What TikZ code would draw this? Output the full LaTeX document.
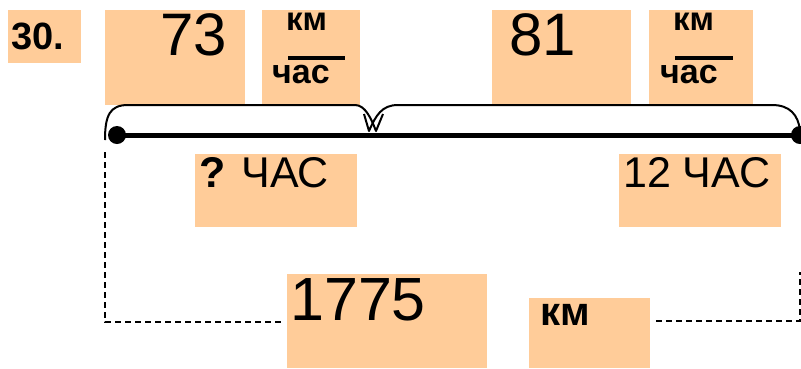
\documentclass[tikz,border=0pt]{standalone}
\usepackage{fontspec}
\setmainfont{Liberation Sans}
\usepackage{tikz}
\usetikzlibrary{positioning, calc}
\definecolor{mPeach}{HTML}{FFCC99}

\begin{document}
\begin{tikzpicture}[x=1pt, y=-1pt,
  box/.style={fill=mPeach, anchor=north west, inner sep=0, draw=none},
  txt/.style={anchor=base west, inner sep=0},
  dot/.style={circle, fill=black, inner sep=0, minimum size=18},
  dashline/.style={line width=1.5, dash pattern=on 6pt off 4pt},
]
  \useasboundingbox (0,0) rectangle (801,368);
  % boxes
  \node[box, minimum width=73,  minimum height=53] (b30)   at (8,10)    {};
  \node[box, minimum width=140, minimum height=95] (b73)   at (105,10)  {};
  \node[box, minimum width=98,  minimum height=95] (bkmA)  at (262,10)  {};
  \node[box, minimum width=139, minimum height=95] (b81)   at (492,10)  {};
  \node[box, minimum width=104, minimum height=95] (bkmB)  at (649,10)  {};
  \node[box, minimum width=162, minimum height=73] (btA)   at (195,154) {};
  \node[box, minimum width=162, minimum height=73] (btB)   at (619,154) {};
  \node[box, minimum width=200, minimum height=94] (bdist) at (287,274) {};
  \node[box, minimum width=121, minimum height=70] (bkmC)  at (529,298) {};
  % texts
  \node[txt, font=\fontsize{38}{42}\selectfont\bfseries] (t30) at (11,49) {30.};
  \node[txt, font=\fontsize{60}{66}\selectfont] (t73) at (160,55) {73};
  \node[txt, font=\fontsize{60}{66}\selectfont] (t81) at (509,55) {81};
  \node[txt, font=\fontsize{33}{36}\selectfont\bfseries] (kmA)  at (286,30) {км};
  \node[txt, font=\fontsize{34}{36}\selectfont\bfseries] (chA)  at (272,83) {час};
  \node[txt, font=\fontsize{33}{36}\selectfont\bfseries] (kmB)  at (673,30) {км};
  \node[txt, font=\fontsize{34}{36}\selectfont\bfseries] (chB)  at (660,83) {час};
  \draw[line width=4] (288,58) -- (345,58);
  \draw[line width=4] (675,58) -- (733,58);
  \node[txt, font=\fontsize{43}{48}\selectfont] (tA) at (199,187) {\textbf{?} ЧАС};
  \node[txt, font=\fontsize{43}{48}\selectfont] (tB) at (623,187) {12 ЧАС};
  \node[txt, font=\fontsize{61}{66}\selectfont] (tdist) at (290,320) {1775};
  \node[txt, font=\fontsize{40}{44}\selectfont\bfseries] (kmC) at (540,325) {км};
  % segment
  \node[dot] (pA) at (117,135) {};
  \node[dot] (pB) at (800,135) {};
  \draw[line width=5] (pA.center) -- (pB.center);
  % braces
  \draw[line width=2, line join=round] (105,140) .. controls (105,115) and (110,105) .. (128,105)
    -- (355,105) .. controls (365,105) and (371,118) .. (376,131) -- (383,114);
  \draw[line width=2, line join=round] (364,114) -- (369,131) .. controls (376,115) and (382,105) .. (398,105)
    -- (772,105) .. controls (790,105) and (798,115) .. (800,130);
  % dashed frame
  \coordinate (cL1) at (105,152);
  \coordinate (cL2) at (105,322);
  \coordinate (cR1) at (800,321);
  \coordinate (cR2) at (800,272);
  \draw[dashline] (cL1) -- (cL2) -- ($(bdist.west |- cL2)+(-6,0)$);
  \draw[dashline] ($(bkmC.east |- cR1)+(6,0)$) -- (cR1) -- (cR2);
\end{tikzpicture}
\end{document}
